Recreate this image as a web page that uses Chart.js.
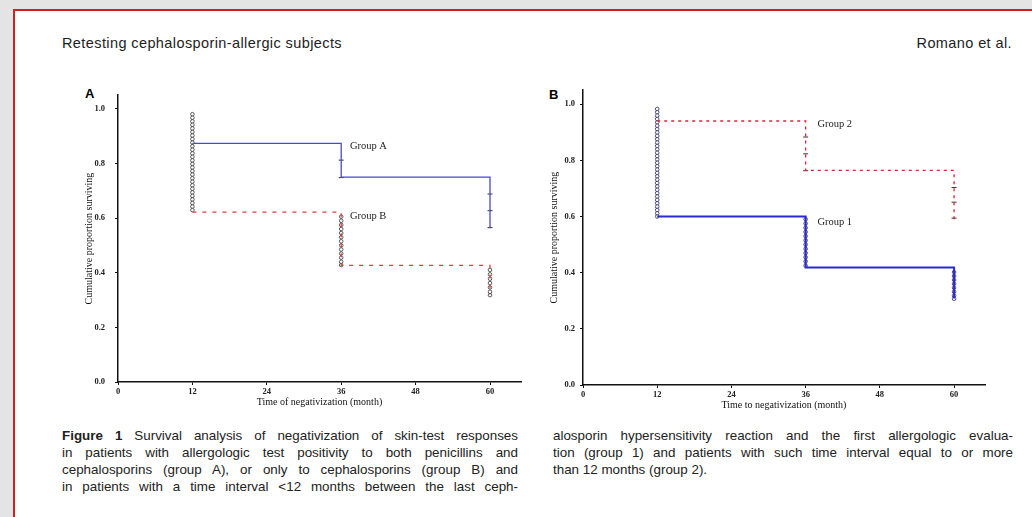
<!DOCTYPE html>
<html>
<head>
<meta charset="utf-8">
<script src="https://cdn.jsdelivr.net/npm/chart.js@4/dist/chart.umd.min.js"></script>
<style>
body{margin:0;width:1032px;height:517px;background:#e4e4e4;overflow:hidden;position:relative;font-family:"Liberation Sans",Arial,sans-serif;color:#222}
#page{position:absolute;left:13px;top:9px;right:0;bottom:0;background:#fff;border-left:2px solid #d02020;border-top:2px solid #d02020}
.abs{position:absolute;white-space:nowrap;font-size:14.5px;letter-spacing:0.4px}
#head{left:62px;top:35px}
#auth{right:20px;top:35px}
.panel{position:absolute;font-family:"Liberation Sans",Arial,sans-serif;font-weight:bold;font-size:13px;color:#000}
canvas{position:absolute}
.cap{position:absolute;top:427px;font-size:13.4px;line-height:17px}
.cap div{text-align:justify;text-align-last:justify;white-space:nowrap}
.cap div.end{text-align-last:left}
#capL{left:62px;width:456px}
#capR{left:553px;width:460px}
</style>
</head>
<body>
<div id="page"></div>
<div class="abs" id="head">Retesting cephalosporin-allergic subjects</div>
<div class="abs" id="auth">Romano et al.</div>
<div class="panel" style="left:85px;top:86px">A</div>
<div class="panel" style="left:549px;top:87px">B</div>
<canvas id="chartA" width="470" height="340" style="left:60px;top:80px"></canvas>
<canvas id="chartB" width="480" height="340" style="left:530px;top:80px"></canvas>
<div class="cap" id="capL">
<div><b>Figure 1</b> Survival analysis of negativization of skin-test responses</div>
<div>in patients with allergologic test positivity to both penicillins and</div>
<div>cephalosporins (group A), or only to cephalosporins (group B) and</div>
<div>in patients with a time interval &lt;12 months between the last ceph-</div>
</div>
<div class="cap" id="capR">
<div>alosporin hypersensitivity reaction and the first allergologic evalua-</div>
<div>tion (group 1) and patients with such time interval equal to or more</div>
<div class="end">than 12 months (group 2).</div>
</div>
<script>
// Tick labels
const xTicks = [0, 12, 24, 36, 48, 60];
const yTicks = [0, 0.2, 0.4, 0.6, 0.8, 1.0];

// Panel A: survival steps at months 12, 36, 60
const monthsA = [12, 36, 60];
const survGroupA = [0.873, 0.75, 0.563];
const survGroupB = [0.622, 0.427, 0.318];
// events (circles) and censored marks
const eventsA12 = [0.980, 0.967, 0.954, 0.941, 0.928, 0.915, 0.902, 0.889, 0.876, 0.863, 0.850, 0.837, 0.824, 0.811, 0.798, 0.785, 0.772, 0.759, 0.746, 0.733, 0.720, 0.707, 0.694, 0.681, 0.668, 0.655, 0.642, 0.629];
const eventsB36 = [0.605, 0.590, 0.575, 0.560, 0.545, 0.530, 0.515, 0.500, 0.485, 0.470, 0.455, 0.440, 0.428];
const eventsB60 = [0.410, 0.394, 0.378, 0.362, 0.346, 0.330, 0.318];
const censorA36 = [0.812, 0.748];
const censorA60 = [0.688, 0.627, 0.565];

// Panel B
const monthsB = [12, 36, 60];
const survGroup1 = [0.600, 0.418, 0.308];
const survGroup2 = [0.940, 0.764, 0.590];
const eventsAll12 = [0.983, 0.971, 0.959, 0.947, 0.935, 0.923, 0.911, 0.899, 0.887, 0.875, 0.863, 0.851, 0.839, 0.827, 0.815, 0.803, 0.791, 0.779, 0.767, 0.755, 0.743, 0.731, 0.719, 0.707, 0.695, 0.683, 0.671, 0.659, 0.647, 0.635, 0.623, 0.611, 0.600];
const events1_36 = [0.590, 0.575, 0.560, 0.545, 0.530, 0.515, 0.500, 0.485, 0.470, 0.455, 0.440, 0.425];
const events1_60 = [0.402, 0.388, 0.374, 0.360, 0.346, 0.332, 0.318, 0.307];
const censor2_36 = [0.883, 0.823, 0.763];
const censor2_60 = [0.703, 0.651, 0.594];

const SERIF = "'Liberation Serif','Times New Roman',serif";

function pts(xs, ys){ return ys.map((y, i) => ({x: xs[i], y: y})); }
function stack(x, ys){ return ys.map(y => ({x: x, y: y})); }

const groupLabels = {
	id: 'groupLabels',
	afterDatasetsDraw(chart, args, opts){
		const ctx = chart.ctx;
		ctx.save();
		ctx.font = '10.5px ' + SERIF;
		ctx.fillStyle = '#222';
		ctx.textBaseline = 'middle';
		(opts.items || []).forEach(it => {
			ctx.fillText(it.text, chart.scales.x.getPixelForValue(it.x), chart.scales.y.getPixelForValue(it.y));
		});
		ctx.restore();
	}
};

function kmChart(id, datasets, labels, xTitle, pad, tickPad){
	new Chart(document.getElementById(id), {
		type: 'line',
		data: { datasets: datasets },
		plugins: [groupLabels],
		options: {
			responsive: false,
			animation: false,
			layout: { padding: pad },
			plugins: { legend: {display:false}, tooltip: {enabled:false}, groupLabels: {items: labels} },
			scales: {
				x: {
					type: 'linear', min: 0, max: 65,
					afterBuildTicks: s => { s.ticks = xTicks.map(v => ({value: v})); },
					afterFit: s => { s.height = 30; },
					border: { display: true, color: '#111', width: 1.5 },
					grid: { drawOnChartArea: false, tickLength: 3, color: '#111' },
					ticks: { color: '#222', padding: 2, maxRotation: 0, font: { family: SERIF, size: 8.5, weight: 'bold' } },
					title: { display: true, text: xTitle, color: '#111', padding: {top: 2, bottom: 4}, font: { family: SERIF, size: 10 } }
				},
				y: {
					type: 'linear', min: 0, max: 1.05,
					afterBuildTicks: s => { s.ticks = yTicks.map(v => ({value: v})); },
					afterFit: s => { s.width = 38; },
					border: { display: true, color: '#111', width: 1.5 },
					grid: { drawOnChartArea: false, tickLength: 3, color: '#111' },
					ticks: { color: '#222', padding: tickPad, font: { family: SERIF, size: 8.5, weight: 'bold' }, callback: v => Number(v).toFixed(1) },
					title: { display: true, text: 'Cumulative proportion surviving', color: '#111', padding: {top: 3, bottom: 2}, font: { family: SERIF, size: 10 } }
				}
			}
		}
	});
}

function stepLine(data, color, width, dash){
	return { data: data, stepped: true, borderColor: color, borderWidth: width, borderDash: dash, pointRadius: 0, fill: false };
}
function circles(data, color){
	return { data: data, showLine: false, pointStyle: 'circle', pointRadius: 1.8, pointBorderWidth: 0.8, pointBorderColor: color, pointBackgroundColor: '#fff' };
}
function censors(data, color){
	return { data: data, showLine: false, pointStyle: 'line', pointRadius: 2.5, pointBorderWidth: 1, pointBorderColor: color };
}

kmChart('chartA', [
	stepLine(pts(monthsA, survGroupA), '#4a4ac8', 1.3, []),
	stepLine(pts(monthsA, survGroupB), '#e23a3a', 1.2, [4, 6]),
	censors(stack(36, censorA36), '#333'),
	censors(stack(60, censorA60), '#333'),
	circles(stack(12, eventsA12), '#333'),
	circles(stack(36, eventsB36), '#333'),
	circles(stack(60, eventsB60), '#333')
], [
	{ text: 'Group A', x: 37.4, y: 0.863 },
	{ text: 'Group B', x: 37.4, y: 0.606 }
], 'Time of negativization (month)', {top: 4, right: 9, left: 20, bottom: 8}, 10);

kmChart('chartB', [
	stepLine(pts(monthsB, survGroup2), '#e0203a', 1.3, [3, 4]),
	stepLine(pts(monthsB, survGroup1), '#2a2ad0', 2, []),
	censors(stack(36, censor2_36), '#333'),
	censors(stack(60, censor2_60), '#333'),
	circles(stack(12, eventsAll12), '#26265e'),
	circles(stack(36, events1_36), '#26265e'),
	circles(stack(60, events1_60), '#26265e')
], [
	{ text: 'Group 2', x: 37.9, y: 0.929 },
	{ text: 'Group 1', x: 37.9, y: 0.58 }
], 'Time to negativization (month)', {top: 7, right: 25, left: 15, bottom: 5}, 5);
</script>
</body>
</html>
